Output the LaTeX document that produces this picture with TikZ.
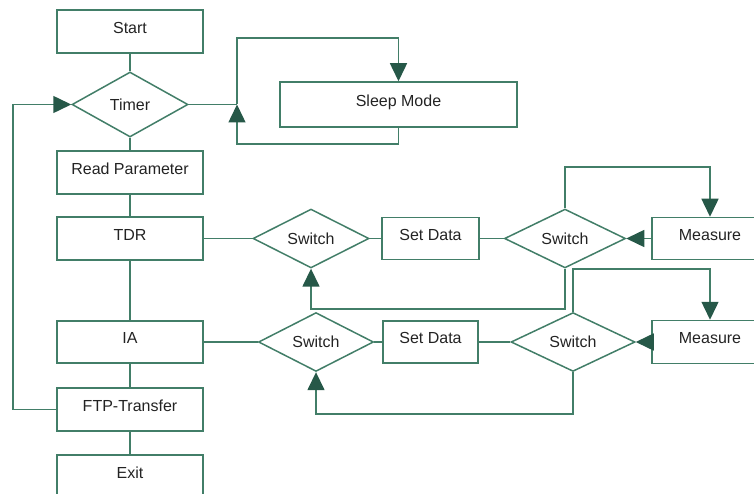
\documentclass[tikz,border=0pt]{standalone}
\usepackage{fontspec}
\setmainfont{Liberation Sans}
\usetikzlibrary{shapes.geometric,arrows.meta}
\definecolor{lnc}{RGB}{66,126,104}
\definecolor{arc}{RGB}{38,88,72}
\definecolor{txc}{RGB}{35,35,35}
\tikzset{
  box/.style={draw=lnc,line width=1.5pt,rectangle,inner sep=0pt,text=txc,
    text height=11pt,text depth=7.5pt,
    font=\fontsize{16}{19}\selectfont},
  dia/.style={draw=lnc,line width=1.5pt,diamond,inner sep=0pt,text=txc,
    font=\fontsize{16}{19}\selectfont},
  ln/.style={draw=lnc,line width=1.5pt},
  arr/.style={draw=lnc,line width=1.5pt,-{Triangle[length=18pt,width=17pt,color=arc]}},
}
\begin{document}
\begin{tikzpicture}[x=1pt,y=-1pt]
\useasboundingbox (0,0) rectangle (754,494);
\clip (0,0) rectangle (754,494);
% left column
\node[box,minimum width=146pt,minimum height=43pt] (start) at (130,31.5) {Start};
\node[dia,minimum width=116pt,minimum height=65pt] (timer) at (130,104.5) {Timer};
\node[box,minimum width=146pt,minimum height=43pt] (read) at (130,172.5) {Read Parameter};
\node[box,minimum width=146pt,minimum height=43pt] (tdr) at (130,238.5) {TDR};
\node[box,minimum width=146pt,minimum height=42pt] (ia) at (130,342) {IA};
\node[box,minimum width=146pt,minimum height=43pt] (ftp) at (130,409.5) {FTP-Transfer};
\node[box,minimum width=146pt,minimum height=43pt] (exit) at (130,476.5) {Exit};
% sleep
\node[box,minimum width=237pt,minimum height=45pt] (sleep) at (398.5,104.5) {Sleep Mode};
% row 1
\node[dia,minimum width=116pt,minimum height=53pt] (sw1) at (311,238.5) {Switch};
\node[box,minimum width=97pt,minimum height=42pt] (sd1) at (430.5,238.5) {Set Data};
\node[dia,minimum width=121pt,minimum height=54pt] (sw2) at (565,238.5) {Switch};
\node[box,minimum width=116pt,minimum height=42pt] (m1) at (710,238.5) {Measure};
% row 2
\node[dia,minimum width=115pt,minimum height=53pt] (sw3) at (316,342) {Switch};
\node[box,minimum width=95pt,minimum height=42pt] (sd2) at (430.5,342) {Set Data};
\node[dia,minimum width=124pt,minimum height=53pt] (sw4) at (573,342) {Switch};
\node[box,minimum width=116pt,minimum height=43pt] (m2) at (710,342) {Measure};
% helper coordinates
\coordinate (j1) at (237,104.5);
\coordinate (stop) at (237,38);
\coordinate (sbot) at (237,144);
\coordinate (lx) at (13,409.5);
\coordinate (r1top) at (565,167);
\coordinate (r1bot) at (311,309);
\coordinate (r2top) at (573,269);
\coordinate (r2bot) at (316,414);
% main spine
\draw[ln] (start) -- (timer);
\draw[ln] (timer) -- (read);
\draw[ln] (read) -- (tdr);
\draw[ln] (tdr) -- (ia);
\draw[ln] (ia) -- (ftp);
\draw[ln] (ftp) -- (exit);
% left loop
\draw[arr] (ftp.west) -- (lx) |- (timer.west);
% sleep loop
\draw[ln] (timer.east) -- (j1);
\draw[arr] (j1) -- (stop) -| (sleep.north);
\draw[arr] (sleep.south) |- (sbot) -- (j1);
% row 1
\draw[ln] (tdr.east) -- (sw1.west);
\draw[ln] (sw1.east) -- (sd1.west);
\draw[ln] (sd1.east) -- (sw2.west);
\draw[arr] (m1.west) -- (sw2.east);
\draw[arr] (sw2.north) -- (r1top) -| (m1.north);
\draw[arr] (sw2.south) |- (r1bot) -- (sw1.south);
% row 2
\draw[ln] (ia.east) -- (sw3.west);
\draw[ln] (sw3.east) -- (sd2.west);
\draw[ln] (sd2.east) -- (sw4.west);
\draw[arr] (m2.west) -- (sw4.east);
\draw[arr] (sw4.north) -- (r2top) -| (m2.north);
\draw[arr] (sw4.south) |- (r2bot) -- (sw3.south);
\end{tikzpicture}
\end{document}
